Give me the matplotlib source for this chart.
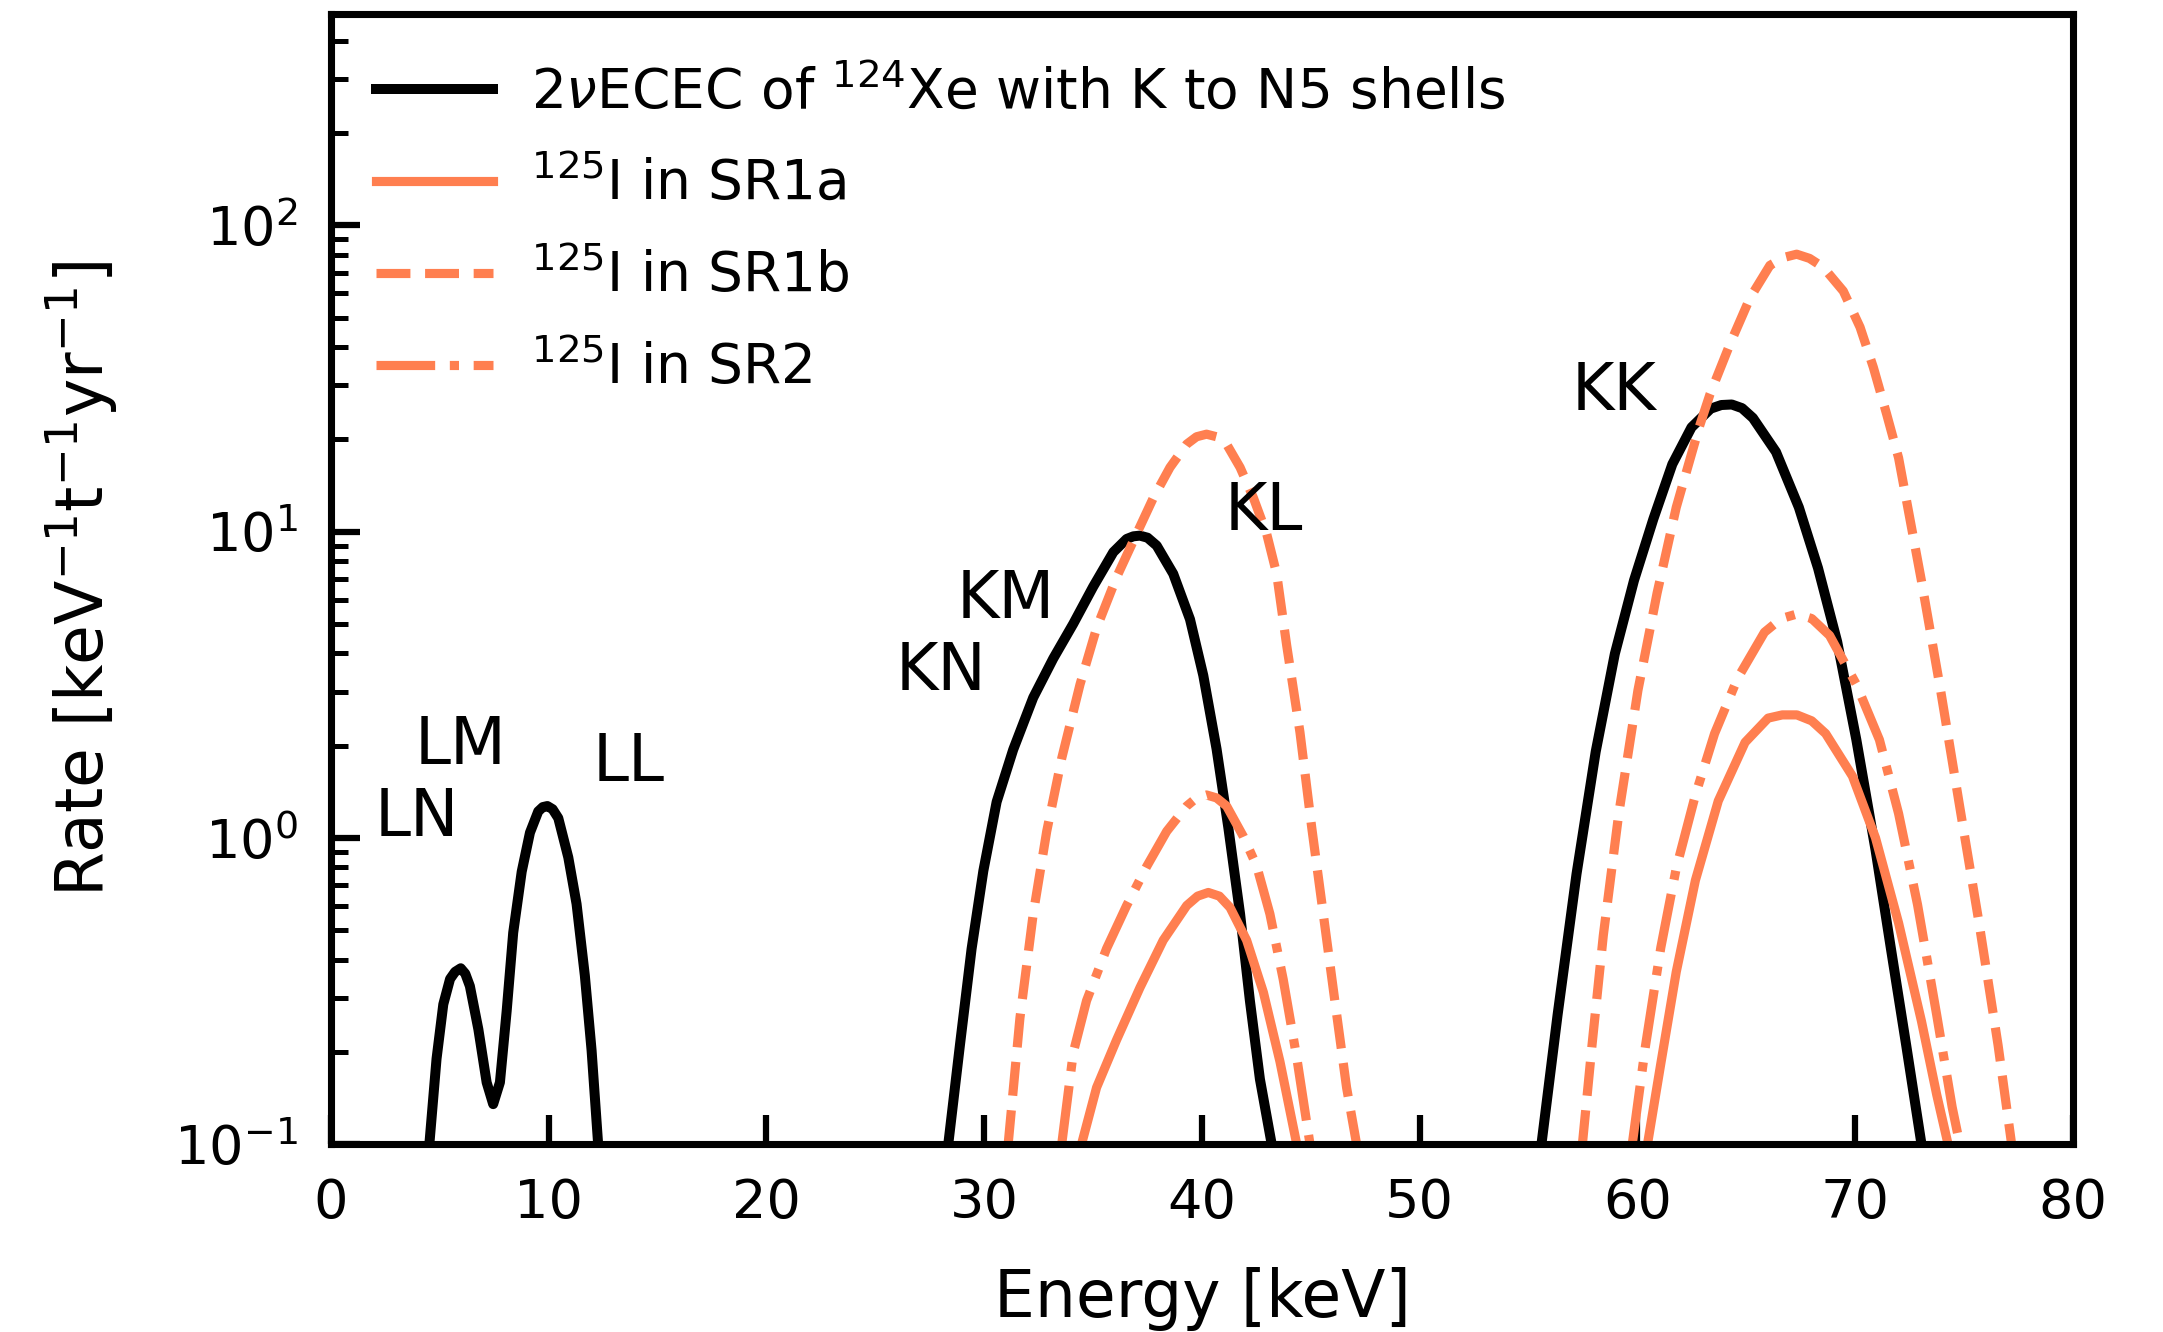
import numpy as np
import matplotlib
matplotlib.use("Agg")
import matplotlib.pyplot as plt

nan = np.nan

# 2vECEC of 124Xe (LL/LM/LN, KK/KL/KM/KN groups), segments split by nan
e_xe = [4.52, 4.85, 5.16, 5.47, 5.7, 5.96, 6.17, 6.38, 6.77, 7.15, 7.45, 7.76, 8.07, 8.37, 8.76,
        9.14, 9.52, 9.73, 9.94, 10.18, 10.44, 10.9, 11.28, 11.66, 11.97, 12.27, nan,
        28.35, 28.89, 29.42, 29.96, 30.57, 31.33, 32.25, 33.17, 34.09, 35.0, 35.93, 36.54,
        36.85, 37.15, 37.5, 37.92, 38.68, 39.45, 40.06, 40.67, 41.21, 41.75, 42.2, 42.66,
        43.2, nan,
        55.59, 56.33, 57.2, 58.08, 58.96, 59.84, 60.73, 61.6, 62.48, 63.36, 63.85, 64.33,
        64.8, 65.3, 66.36, 67.41, 68.29, 69.17, 70.05, 70.93, 71.63, 72.34, 73.04]
r_xe = [0.1, 0.19, 0.286, 0.346, 0.365, 0.375, 0.36, 0.328, 0.237, 0.159, 0.135, 0.159, 0.272,
        0.49, 0.775, 1.04, 1.22, 1.26, 1.27, 1.24, 1.16, 0.863, 0.608, 0.355, 0.202, 0.1, nan,
        0.1, 0.212, 0.434, 0.78, 1.31, 1.94, 2.87, 3.85, 5.0, 6.6, 8.57, 9.46,
        9.65, 9.7, 9.55, 9.0, 7.28, 5.17, 3.39, 1.95, 1.08, 0.564, 0.294, 0.163,
        0.1, nan,
        0.1, 0.264, 0.762, 1.91, 3.99, 6.93, 11.0, 16.6, 21.9, 25.2, 25.9, 26.0,
        25.3, 23.5, 18.2, 12.0, 7.6, 4.37, 2.09, 0.914, 0.438, 0.21, 0.1]

# 125I in SR1a
e_sr1a = [34.47, 35.16, 36.08, 37.15, 38.22, 39.3, 39.8, 40.29, 40.8, 41.29, 42.05, 42.82,
          43.58, 44.35, nan,
          60.46, 61.07, 61.78, 62.66, 63.71, 64.94, 66.0, 66.65, 67.32, 68.0, 68.64, 69.87,
          70.93, 71.99, 73.04, 73.74, 74.26]
r_sr1a = [0.1, 0.153, 0.219, 0.324, 0.463, 0.601, 0.645, 0.663, 0.645, 0.592, 0.463, 0.313,
          0.186, 0.1, nan,
          0.1, 0.183, 0.365, 0.727, 1.32, 2.05, 2.46, 2.52, 2.52, 2.41, 2.19, 1.59,
          1.0, 0.527, 0.252, 0.145, 0.1]

# 125I in SR1b
e_sr1b = [31.1, 31.64, 32.25, 32.87, 33.56, 34.4, 35.16, 36.08, 37.0, 37.77, 38.53, 39.3, 39.75,
          40.21, 40.67, 41.13, 41.75, 42.36, 42.97, 43.43, 43.89, 44.5, 45.04, 45.57, 46.1,
          46.64, 47.1, nan,
          57.47, 57.91, 58.43, 59.14, 60.02, 60.9, 61.78, 62.83, 63.33, 64.25, 65.17, 66.08,
          66.7, 67.31, 67.9, 68.53, 69.45, 70.22, 70.83, 71.44, 71.99, 73.04, 73.92, 74.8,
          75.68, 76.56, 77.18]
r_sr1b = [0.1, 0.258, 0.564, 1.05, 1.82, 3.17, 4.84, 7.1, 9.84, 12.9, 16.2, 19.3, 20.4,
          20.8, 20.4, 19.3, 16.2, 12.9, 9.84, 7.28, 4.25, 2.21, 1.08, 0.564, 0.294,
          0.153, 0.1, nan,
          0.1, 0.21, 0.48, 1.2, 3.03, 6.3, 12.0, 21.9, 28.1, 41.0, 58.0, 74.0,
          78.5, 80.5, 78.0, 73.0, 61.0, 46.5, 34.4, 24.2, 17.4, 6.9, 3.03, 1.26,
          0.53, 0.21, 0.1]

# 125I in SR2
e_sr2 = [33.56, 34.09, 34.7, 35.62, 36.54, 37.46, 38.38, 39.3, 39.75, 40.21, 40.67, 41.13,
         41.9, 42.51, 43.12, 43.73, 44.35, 44.96, nan,
         59.76, 60.37, 61.07, 61.78, 62.66, 63.54, 64.6, 65.83, 66.6, 67.32, 68.0, 68.82,
         70.05, 71.11, 71.99, 72.86, 73.74, 74.45, 74.8]
r_sr2 = [0.1, 0.199, 0.294, 0.435, 0.601, 0.806, 1.05, 1.27, 1.35, 1.38, 1.35, 1.27,
         1.01, 0.81, 0.564, 0.345, 0.192, 0.1, nan,
         0.1, 0.21, 0.438, 0.796, 1.38, 2.19, 3.32, 4.69, 5.2, 5.38, 5.2, 4.58,
         3.17, 2.09, 1.2, 0.605, 0.264, 0.132, 0.1]

shell_labels = ["LN", "LM", "LL", "KN", "KM", "KL", "KK"]
shell_x = [3.93, 5.95, 13.68, 28.0, 30.97, 42.82, 58.9]
shell_y = [1.16, 2.0, 1.75, 3.47, 6.0, 11.6, 28.5]

orange = "coral"

fig = plt.figure(figsize=(2163 / 300, 1332 / 300), dpi=300)
ax = fig.add_axes([0.153, 0.1411, 0.8054, 0.8484])

ax.plot(e_xe, r_xe, color="black", lw=2.4,
        label=r"2$\nu$ECEC of $^{124}$Xe with K to N5 shells")
ax.plot(e_sr1a, r_sr1a, color=orange, lw=2.2, ls="-", label=r"$^{125}$I in SR1a")
ax.plot(e_sr1b, r_sr1b, color=orange, lw=2.2, ls="--", label=r"$^{125}$I in SR1b")
ax.plot(e_sr2, r_sr2, color=orange, lw=2.2, ls="-.", label=r"$^{125}$I in SR2")

for lab, x, y in zip(shell_labels, shell_x, shell_y):
    ax.text(x, y, lab, ha="center", va="center", fontsize=15.5)

ax.set_yscale("log")
ax.set_xlim(0, 80)
ax.set_ylim(0.1, 490)
ax.set_xticks(range(0, 81, 10))
ax.set_xlabel("Energy [keV]", fontsize=15.5, labelpad=9)
ax.set_ylabel(r"Rate [keV$^{-1}$t$^{-1}$yr$^{-1}$]", fontsize=15.5, labelpad=13)

for s in ax.spines.values():
    s.set_linewidth(1.7)
ax.tick_params(which="major", direction="in", length=7, width=1.5, labelsize=13, pad=8)
ax.tick_params(which="minor", direction="in", length=4, width=1.2)

leg = ax.legend(loc="upper left", frameon=False, fontsize=13.2, handlelength=2.12,
                handletextpad=0.7, labelspacing=0.68, borderaxespad=0.55)
leg.set_bbox_to_anchor((-0.004, 1.0), transform=ax.transAxes)

fig.savefig("out.png", dpi=300)
